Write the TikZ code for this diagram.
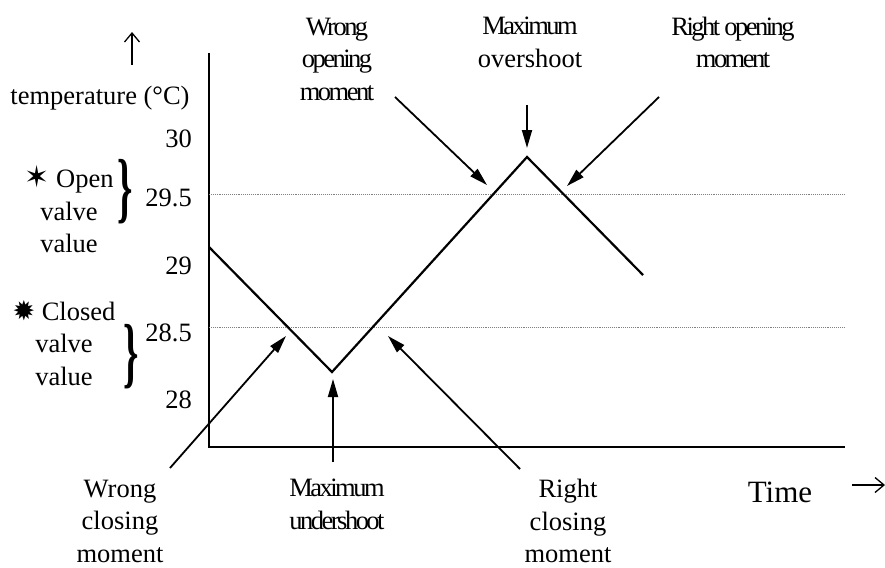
\documentclass[tikz,border=0pt]{standalone}
\usepackage{fontspec}
\setmainfont{Liberation Serif}
\newfontfamily\symfont{DejaVu Sans}
\newfontfamily\tightfont[LetterSpace=-9.5]{Liberation Serif}
\usetikzlibrary{arrows.meta}
\newcommand{\starsym}[2]{{\fontsize{#1}{#1}\symfont #2}}
\newcommand{\bigbrace}{\scalebox{0.5}[1]{\fontsize{78}{78}\selectfont\bfseries\}}}
\begin{document}
\begin{tikzpicture}[x=1pt,y=-1pt,
  lbl/.style={font=\fontsize{26.5}{32.5}\selectfont, align=center, inner sep=0pt},
  tlbl/.style={font=\fontsize{26.5}{32.5}\tightfont, align=center, inner sep=0pt},
  ticklbl/.style={font=\fontsize{26.5}{32.5}\selectfont, anchor=east, inner sep=0pt},
  bracenode/.style={inner sep=0pt},
  axisline/.style={line width=2.6pt},
  curveline/.style={line width=2.2pt, line join=miter},
  ptr/.style={line width=1.8pt, -{Triangle[length=18pt,width=10pt]}},
  guide/.style={line width=0.9pt, densely dotted, gray},
  thinarrow/.style={line width=1.3pt, -{Straight Barb[length=9pt,width=15pt]}}]
\useasboundingbox (0,0) rectangle (885,567);
\fill[white] (0,0) rectangle (885,567);

% axes
\coordinate (ytop) at (209,53);
\coordinate (orig) at (209,447);
\coordinate (xend) at (845,447);
\draw[axisline] (ytop) -- (orig) -- (xend);

% guide lines
\coordinate (g1a) at (209,194);
\coordinate (g1b) at (845,194);
\coordinate (g2a) at (209,327);
\coordinate (g2b) at (845,327);
\draw[guide] (g1a) -- (g1b);
\draw[guide] (g2a) -- (g2b);

% curve
\coordinate (c0) at (209,247);
\coordinate (cmin) at (332,372);
\coordinate (cmax) at (527,157);
\coordinate (c3) at (643,275);
\draw[curveline] (c0) -- (cmin) -- (cmax) -- (c3);

% tick labels
\node[ticklbl] (t30) at (192,139) {30};
\node[ticklbl] (t295) at (192,198) {29.5};
\node[ticklbl] (t29) at (192,266) {29};
\node[ticklbl] (t285) at (192,333) {28.5};
\node[ticklbl] (t28) at (192,400) {28};

% axis captions
\coordinate (upa) at (132,65);
\coordinate (upb) at (132,32);
\draw[thinarrow] (upa) -- (upb);
\node[lbl] (temp) at (100,98) {temperature (°C)};
\node[font=\fontsize{31}{36}\selectfont, inner sep=0pt] (time) at (780,492) {Time};
\coordinate (ra) at (852,485);
\coordinate (rb) at (885,485);
\draw[thinarrow] (ra) -- (rb);

% left labels
\node[lbl] (open) at (69,209) {\starsym{30}{✶} Open\\valve\\value};
\node[bracenode] (br1) at (125,192) {\bigbrace};
\node[lbl] (closed) at (64,343) {\starsym{27}{✹} Closed\\valve\\value};
\node[bracenode] (br2) at (131,357) {\bigbrace};

% top labels
\node[tlbl] (wo) at (337,59) {Wrong\\opening\\moment};
\node[lbl] (mo) at (530,42.5) {{\tightfont Maximum}\\overshoot};
\node[tlbl] (ro) at (733,42.5) {Right opening\\moment};

% bottom labels
\node[lbl] (wc) at (120,521) {Wrong\\closing\\moment};
\node[tlbl] (mu) at (337,504.5) {Maximum\\undershoot};
\node[lbl] (rc) at (568,521) {Right\\closing\\moment};

% pointer arrows
\coordinate (wos) at (395,97);   \coordinate (wot) at (487,185);
\coordinate (mos) at (527,105);  \coordinate (mot) at (527,148);
\coordinate (ros) at (659,97);   \coordinate (rot) at (567,186);
\coordinate (wcs) at (170,468);  \coordinate (wct) at (286,336);
\coordinate (mus) at (333,462);  \coordinate (mut) at (333,379);
\coordinate (rcs) at (520,469);  \coordinate (rct) at (388,336);
\draw[ptr] (wos) -- (wot);
\draw[ptr] (mos) -- (mot);
\draw[ptr] (ros) -- (rot);
\draw[ptr] (wcs) -- (wct);
\draw[ptr] (mus) -- (mut);
\draw[ptr] (rcs) -- (rct);
\end{tikzpicture}
\end{document}
